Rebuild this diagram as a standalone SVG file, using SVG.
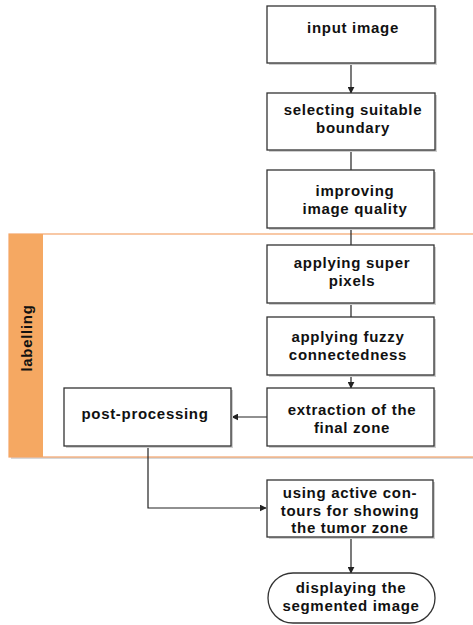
<svg xmlns="http://www.w3.org/2000/svg" width="473" height="625" viewBox="0 0 473 625">
<defs>
<style>
.box{fill:#fff;stroke:#333;stroke-width:1.3}
.sh{fill:#cfcfcf}
.t{font-family:"Liberation Sans",Arial,sans-serif;font-weight:bold;font-size:15px;letter-spacing:0.7px;fill:#111;text-anchor:middle}
.c{fill:none;stroke:#222;stroke-width:1.2}
</style>
<marker id="ah" viewBox="0 0 10 10" refX="9" refY="5" markerWidth="7" markerHeight="7" orient="auto" markerUnits="userSpaceOnUse">
<path d="M0,0 L10,5 L0,10 z" fill="#222"/>
</marker>
</defs>
<rect width="473" height="625" fill="#fff"/>
<g id="lane">
<rect x="11" y="236" width="470" height="223" fill="#d8d8d8"/>
<rect x="9" y="234" width="470" height="223" fill="#fff" stroke="#f4a46b" stroke-width="1.2"/>
<rect x="9" y="234" width="34" height="223" fill="#f5a862"/>
<text class="t" transform="translate(32,338) rotate(-90)">labelling</text>
</g>
<g id="connectors">
<line class="c" x1="351" y1="63" x2="351" y2="93" marker-end="url(#ah)"/>
<line class="c" x1="351" y1="150" x2="351" y2="170"/>
<line class="c" x1="351" y1="228" x2="351" y2="245"/>
<line class="c" x1="351" y1="303" x2="351" y2="317"/>
<line class="c" x1="351" y1="375" x2="351" y2="388" marker-end="url(#ah)"/>
<line class="c" x1="267" y1="417" x2="232" y2="417" marker-end="url(#ah)"/>
<polyline class="c" points="148,446 148,508 266,508" marker-end="url(#ah)"/>
<line class="c" x1="351" y1="537" x2="351" y2="573" marker-end="url(#ah)"/>
</g>
<g id="n1"><rect class="sh" x="269" y="8" width="168" height="57"/><rect class="box" x="267" y="6" width="168" height="57"/><text class="t" x="353" y="33">input image</text></g>
<g id="n2"><rect class="sh" x="269" y="95" width="168" height="57"/><rect class="box" x="267" y="93" width="168" height="57"/><text class="t" y="115"><tspan x="353">selecting suitable</tspan><tspan x="353" dy="18">boundary</tspan></text></g>
<g id="n3"><rect class="sh" x="269" y="172" width="167" height="58"/><rect class="box" x="267" y="170" width="167" height="58"/><text class="t" y="196"><tspan x="355">improving</tspan><tspan x="355" dy="17.5">image quality</tspan></text></g>
<g id="n4"><rect class="sh" x="269" y="247" width="167" height="58"/><rect class="box" x="267" y="245" width="167" height="58"/><text class="t" y="268"><tspan x="352">applying super</tspan><tspan x="352" dy="17.5">pixels</tspan></text></g>
<g id="n5"><rect class="sh" x="269" y="319" width="167" height="58"/><rect class="box" x="267" y="317" width="167" height="58"/><text class="t" y="342"><tspan x="348">applying fuzzy</tspan><tspan x="348" dy="17.5">connectedness</tspan></text></g>
<g id="n6"><rect class="sh" x="269" y="390" width="167" height="58"/><rect class="box" x="267" y="388" width="167" height="58"/><text class="t" y="415"><tspan x="352">extraction of the</tspan><tspan x="352" dy="18">final zone</tspan></text></g>
<g id="n7"><rect class="sh" x="66" y="390" width="167" height="58"/><rect class="box" x="64" y="388" width="167" height="58"/><text class="t" x="145" y="419">post-processing</text></g>
<g id="n8"><rect class="sh" x="269" y="482" width="166" height="57"/><rect class="box" x="267" y="480" width="166" height="57"/><text class="t" y="498"><tspan x="350">using active con-</tspan><tspan x="350" dy="17.5">tours for showing</tspan><tspan x="350" dy="17.5">the tumor zone</tspan></text></g>
<g id="n9"><rect class="box" x="268" y="573" width="167" height="50" rx="25" ry="25"/><text class="t" y="593"><tspan x="351">displaying the</tspan><tspan x="351" dy="18">segmented image</tspan></text></g>
</svg>
